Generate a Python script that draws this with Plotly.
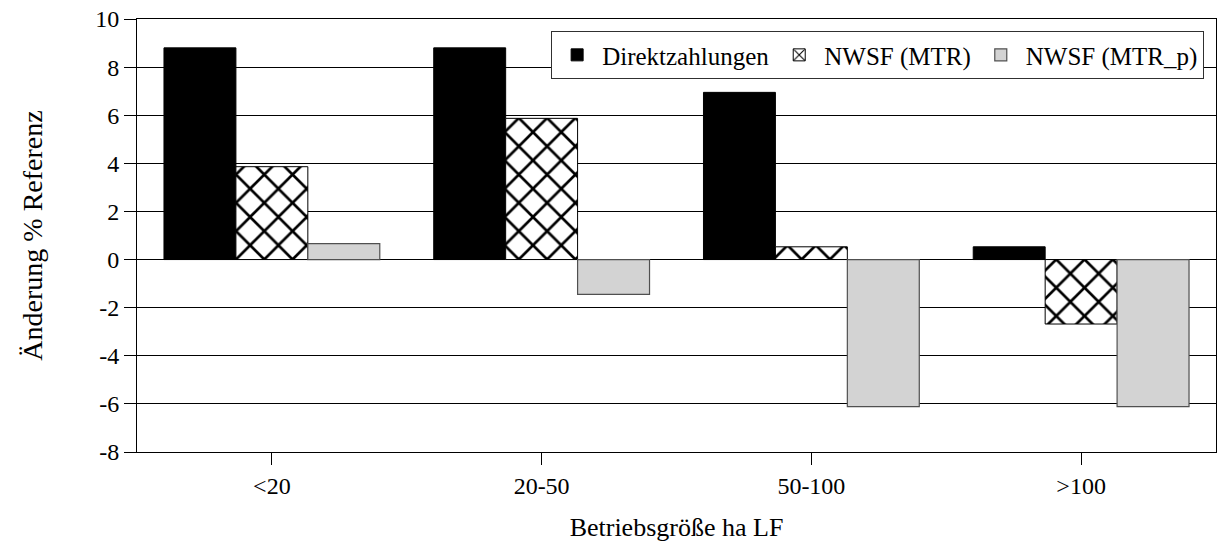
import plotly.graph_objects as go

categories = ["<20", "20-50", "50-100", ">100"]
direktzahlungen = [8.8, 8.8, 6.95, 0.53]
nwsf_mtr = [3.86, 5.87, 0.53, -2.68]
nwsf_mtr_p = [0.66, -1.45, -6.11, -6.11]
y_ticks = [10, 8, 6, 4, 2, 0, -2, -4, -6, -8]

FONT = "Liberation Serif"

fig = go.Figure()
fig.add_trace(go.Bar(
    name="Direktzahlungen", x=categories, y=direktzahlungen,
    marker=dict(color="black", line=dict(color="black", width=1)),
))
fig.add_trace(go.Bar(
    name="NWSF (MTR)", x=categories, y=nwsf_mtr,
    marker=dict(color="white", line=dict(color="black", width=1),
                pattern=dict(shape="x", fgcolor="black", bgcolor="white",
                             fgopacity=1, size=20, solidity=0.25, fillmode="replace")),
))
fig.add_trace(go.Bar(
    name="NWSF (MTR_p)", x=categories, y=nwsf_mtr_p,
    marker=dict(color="#d3d3d3", line=dict(color="#505050", width=1.2)),
))

fig.update_layout(
    width=1218, height=549,
    margin=dict(l=137, r=2, t=19, b=97),
    paper_bgcolor="white", plot_bgcolor="white",
    barmode="group", bargap=0.2, bargroupgap=0,
    font=dict(family=FONT, size=24, color="black"),
    showlegend=True,
    legend=dict(
        orientation="h", x=0.989, xanchor="right", y=0.972, yanchor="top",
        bgcolor="white", bordercolor="#303030", borderwidth=1,
        font=dict(family=FONT, size=25, color="black"),
        traceorder="normal", itemwidth=40,
    ),
)
fig.update_xaxes(
    type="category", automargin=False,
    showline=True, linecolor="black", linewidth=1, mirror=True,
    ticks="outside", ticklen=12, tickcolor="black",
    showgrid=False,
    tickfont=dict(family=FONT, size=24),
    title=dict(text="Betriebsgröße ha LF", font=dict(family=FONT, size=26), standoff=20),
)
fig.update_yaxes(
    range=[-8, 10], tickvals=y_ticks, ticktext=[str(v) for v in y_ticks],
    automargin=False,
    showline=True, linecolor="black", linewidth=1, mirror=True,
    ticks="outside", ticklen=12, tickcolor="black",
    showgrid=True, gridcolor="black", gridwidth=1,
    zeroline=True, zerolinecolor="black", zerolinewidth=1,
    tickfont=dict(family=FONT, size=24),
    title=dict(text="Änderung % Referenz", font=dict(family=FONT, size=28), standoff=44),
)

# remove the browser's default body margin so the 1218x549 figure fills the window
fig.write_html(
    "out.html",
    config={"displayModeBar": False},
    post_script="document.documentElement.style.margin='0';"
                "document.body.style.margin='0';"
                "document.body.style.overflow='hidden';",
)
